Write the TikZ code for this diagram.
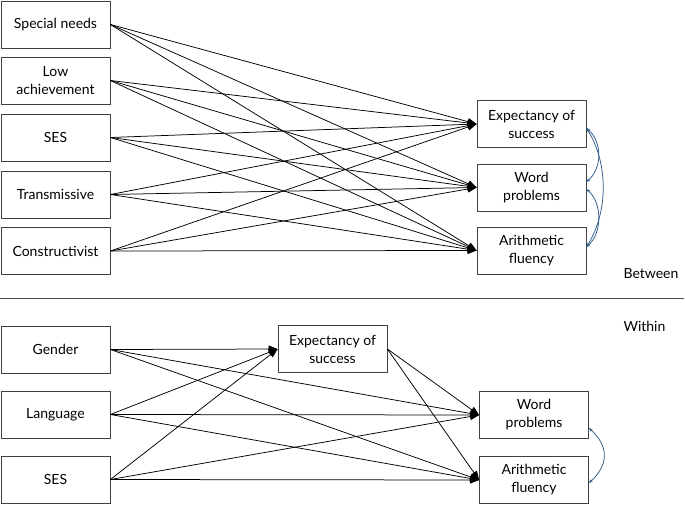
\documentclass[tikz,border=0pt]{standalone}
\usepackage{fontspec}
\setmainfont{Lato}
\usetikzlibrary{arrows.meta}
\definecolor{covblue}{HTML}{2E5C8A}
\begin{document}
\begin{tikzpicture}[x=1pt,y=-1pt,
  box/.style={draw=black!75, line width=0.8pt, minimum width=109pt, minimum height=47pt, align=center,
    font=\fontsize{14}{18}\selectfont, inner sep=0pt},
  arr/.style={-{Triangle[length=9pt,width=7pt]}, line width=0.75pt},
  cov/.style={{Stealth[length=4pt,width=3pt]}-{Stealth[length=4pt,width=3pt]}, draw=covblue, line width=0.75pt},
  lbl/.style={font=\fontsize{14}{16}\selectfont}]
\useasboundingbox (0,0) rectangle (685,505);
% Between
\node[box] (sn) at (55.5,24.5) {Special needs};
\node[box] (la) at (55.5,80.5) {Low\\achievement};
\node[box] (ses) at (55.5,137.5) {SES};
\node[box] (tr) at (55.5,194.5) {Transmissive};
\node[box] (co) at (55.5,251) {Constructivist};
\node[box] (ex) at (531.5,124) {Expectancy of\\success};
\node[box] (wp) at (531.5,187.5) {Word\\problems};
\node[box] (af) at (531.5,250.5) {Arithmetic\\fluency};
\foreach \s in {sn,la,ses,tr,co}{
  \foreach \t in {ex,wp,af}{
    \draw[arr] (\s.east) -- (\t.west);
  }
}
\draw[cov] ([yshift=-4pt]ex.east) .. controls +(16,14) and +(16,-14) .. ([yshift=5.5pt]wp.east);
\draw[cov] ([yshift=-4pt]ex.east) .. controls +(22,35) and +(22,-35) .. ([yshift=3.5pt]af.east);
\draw[cov] ([yshift=-1.5pt]wp.east) .. controls +(16,14) and +(16,-14) .. ([yshift=3.5pt]af.east);
\node[lbl, anchor=west] (bt) at (620,274) {Between};
\node[lbl, anchor=west] (wt) at (620,326) {Within};
\coordinate (l1) at (0,298);
\coordinate (l2) at (684,298);
\draw[line width=0.6pt, black!70] (l1) -- (l2);
% Within
\node[box] (ge) at (55.5,349.5) {Gender};
\node[box] (lg) at (55.5,414.5) {Language};
\node[box] (ses2) at (55.5,479.5) {SES};
\node[box] (ex2) at (332.5,349) {Expectancy of\\success};
\node[box] (wp2) at (534,415) {Word\\problems};
\node[box] (af2) at (534,480) {Arithmetic\\fluency};
\foreach \s in {ge,lg,ses2}{
  \foreach \t in {ex2,wp2,af2}{
    \draw[arr] (\s.east) -- (\t.west);
  }
}
\draw[arr] (ex2.east) -- (wp2.west);
\draw[arr] (ex2.east) -- (af2.west);
\draw[cov] ([yshift=-13pt]wp2.east) .. controls +(20,18) and +(20,-18) .. ([yshift=-3pt]af2.east);
\end{tikzpicture}
\end{document}
